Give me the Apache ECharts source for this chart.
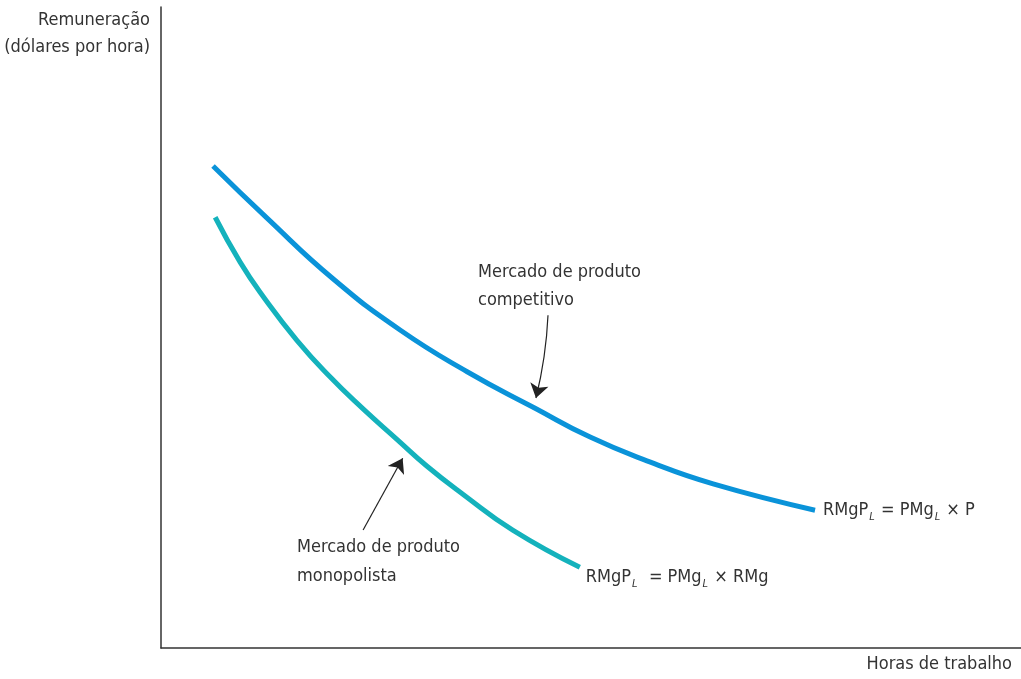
<!DOCTYPE html>
<html>
<head>
<meta charset="utf-8">
<script src="https://cdn.jsdelivr.net/npm/echarts@6/dist/echarts.min.js"></script>
<style>
  html, body { margin: 0; padding: 0; background: #fff; }
  #cht { width: 1021px; height: 679px; }
</style>
</head>
<body>
<div id="cht"></div>
<script>
const cht = echarts.init(document.getElementById('cht'));

// curve points (x: horas, y: remuneração, 0..100 scale)
const compX = [6.05, 12.3, 20.0, 27.8, 35.6, 43.5, 49.9, 56.5, 64.2, 76.05];
const compY = [75.2, 67.1, 57.6, 49.6, 43.1, 37.4, 32.9, 29.2, 25.6, 21.5];
const monoX = [6.3, 9.2, 11.9, 15.8, 19.65, 23.5, 27.4, 30.9, 35.1, 40.9, 48.7];
const monoY = [67.2, 60.2, 54.8, 48.0, 42.3, 37.3, 32.6, 28.4, 24.0, 18.4, 12.6];

// annotation arrows: [tailX, tailY, tipX, tipY]
const compArrow = [45.0, 51.9, 43.6, 39.0];
const monoArrow = [23.5, 18.4, 28.1, 29.6];

const FONT = '"DejaVu Sans Condensed", "Liberation Sans Narrow", Roboto, sans-serif';
const TXT = '#333';
const FS = 18;

const zip = (xs, ys) => xs.map((x, i) => [x, ys[i]]);

const eqRich = {
  a: { fontSize: FS, fontFamily: FONT, color: TXT },
  s: { fontSize: 11, fontFamily: FONT, fontStyle: 'italic', color: TXT, padding: [14, 1, 0, 1] },
};

const arrow = (a, curve) => ({
  type: 'lines',
  coordinateSystem: 'cartesian2d',
  silent: true,
  z: 3,
  symbol: ['none', 'arrow'],
  symbolSize: [9, 14],
  lineStyle: { color: '#222', width: 1.2, opacity: 1, curveness: curve },
  data: [{ coords: [[a[0], a[1]], [a[2], a[3]]] }],
});

/** @type {import("echarts").EChartsOption} */
const option = {
  animation: false,
  grid: { left: 161, right: 0, top: 7, bottom: 31 },
  xAxis: {
    type: 'value', min: 0, max: 100,
    axisLine: { show: true, lineStyle: { color: '#333', width: 1.5 } },
    axisTick: { show: false }, axisLabel: { show: false }, splitLine: { show: false },
  },
  yAxis: {
    type: 'value', min: 0, max: 100,
    axisLine: { show: true, lineStyle: { color: '#333', width: 1.5 } },
    axisTick: { show: false }, axisLabel: { show: false }, splitLine: { show: false },
  },
  series: [
    {
      type: 'line',
      data: zip(compX, compY),
      smooth: 0.5,
      showSymbol: false,
      lineStyle: { color: '#0a93d9', width: 5 },
      endLabel: {
        show: true,
        distance: 8,
        formatter: '{a|RMgP}{s|L}{a| = PMg}{s|L}{a| × P}',
        rich: eqRich,
      },
    },
    {
      type: 'line',
      data: zip(monoX, monoY),
      smooth: 0.5,
      showSymbol: false,
      lineStyle: { color: '#14b2bc', width: 5 },
      endLabel: {
        show: true,
        distance: 6,
        offset: [0, 10],
        formatter: '{a|RMgP}{s|L}{a|  = PMg}{s|L}{a| × RMg}',
        rich: eqRich,
      },
    },
    arrow(compArrow, 0.05),
    arrow(monoArrow, 0),
  ],
  graphic: [
    { type: 'text', x: 150, y: 7,
      style: { text: 'Remuneração\n(dólares por hora)', align: 'right', font: FS + 'px ' + FONT, fill: TXT, lineHeight: 27 } },
    { type: 'text', x: 1012, y: 655,
      style: { text: 'Horas de trabalho', align: 'right', font: FS + 'px ' + FONT, fill: TXT } },
    { type: 'text', x: 478, y: 258,
      style: { text: 'Mercado de produto\ncompetitivo', font: FS + 'px ' + FONT, fill: TXT, lineHeight: 28 } },
    { type: 'text', x: 297, y: 533,
      style: { text: 'Mercado de produto\nmonopolista', font: FS + 'px ' + FONT, fill: TXT, lineHeight: 29 } },
  ],
};

cht.setOption(option);
window.onresize = () => cht.resize();
</script>
</body>
</html>
